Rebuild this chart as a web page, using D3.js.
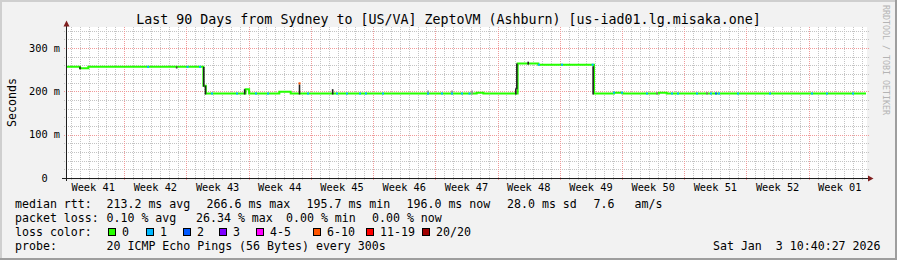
<!DOCTYPE html>
<html>
<head>
<meta charset="utf-8">
<script src="https://cdn.jsdelivr.net/npm/d3@7/dist/d3.min.js"></script>
<style>
	body { margin: 0; background: #f2f2f2; }
	svg { display: block; }
	text { font-family: "DejaVu Sans Mono", monospace; white-space: pre; fill: #000; }
</style>
</head>
<body>
<div id="visDiv"></div>
<script>
(function () {

///////////////////////
// DATA
//
var startTime = new Date(Date.UTC(2025, 9, 5, 10, 40, 27)),
	endTime = new Date(Date.UTC(2026, 0, 3, 10, 40, 27));

// median rtt, step changes (days after start, ms)
var medDays = [0, 1.58, 2.51, 15.45, 15.73, 20.2, 20.6, 24.0, 25.28, 46.2, 46.95, 50.81, 53.13, 59.4, 61.65, 62.6, 66.71, 67.58];
var medMs   = [256.5, 253.5, 256.5, 213, 195, 205, 195, 199, 195, 197, 195, 264, 261.5, 195, 197, 195, 197, 195];

// smoke (spread of pings) bars
var smokeDays = [1.58, 12.45, 15.5, 15.69, 20.1, 26.27, 30.0, 40.73, 43.43, 45.68, 50.6, 50.72, 52.0, 59.3, 66.49, 72.11];
var smokeLo   = [253.5, 255, 213, 195, 195, 195, 195, 195, 195, 195, 195, 207, 264, 195, 195, 195];
var smokeHi   = [257, 257.5, 256.5, 213, 205, 216, 205, 202, 202, 202, 207, 264, 268.5, 258, 198, 198];
var smokeCol  = ["#222", "#444", "#222", "#222", "#222", "#222", "#222", "#909090", "#909090", "#909090", "#222", "#222", "#222", "#222", "#777", "#777"];

// samples with packet loss (days after start, loss class index)
var lossDays = [9.23, 13.67, 15.08, 16.43, 19.24, 21.38, 22.73, 26.27, 27.23, 30.49, 31.61, 33.08, 33.75, 35.66, 40.73, 42.3, 43.43, 44.55, 45.39,
	53.21, 55.8, 59.25, 61.65, 62.55, 65.36, 68.18, 68.85, 70.99, 72.56, 73.13, 73.46, 75.6, 79.2, 83.93, 85.61, 88.54];
var lossCls  = [1, 1, 1, 1, 1, 1, 1, 5, 1, 1, 1, 1, 1, 1, 1, 1, 1, 1, 1,
	1, 1, 1, 1, 1, 1, 1, 1, 1, 1, 2, 1, 1, 1, 1, 1, 1];
var lossMs   = [null, null, null, null, null, null, null, 218.5, null, null, null, null, null, null, null, null, null, null, null,
	null, null, null, null, null, null, null, null, null, null, null, null, null, null, null, null, null];

var weekLabels = ["Week 41", "Week 42", "Week 43", "Week 44", "Week 45", "Week 46", "Week 47",
	"Week 48", "Week 49", "Week 50", "Week 51", "Week 52", "Week 01"];
var yTicks = [0, 100, 200, 300],
	yTickLabels = ["0  ", "100 m", "200 m", "300 m"];

var lossNames  = ["0", "1", "2", "3", "4-5", "6-10", "11-19", "20/20"],
	lossColors = ["#26ff00", "#00b8ff", "#0059ff", "#7e00ff", "#ff00ff", "#ff5500", "#ff0000", "#a00000"];

var rttLine  = ["median rtt:", "213.2 ms avg", "266.6 ms max", "195.7 ms min", "196.0 ms now", "28.0 ms sd", "7.6", "am/s"],
	lossLine = ["packet loss:", "0.10 % avg", "26.34 % max", "0.00 % min", "0.00 % now"],
	probeLine = ["probe:", "20 ICMP Echo Pings (56 Bytes) every 300s"];

var titleText = "Last 90 Days from Sydney to [US/VA] ZeptoVM (Ashburn) [us-iad01.lg.misaka.one]",
	stampText = "Sat Jan  3 10:40:27 2026";

///////////////////////
// DEFS
//
var W = 897, H = 260,
	pL = 66, pR = 866, pT = 27, pB = 178,
	rttX = [15, 106.5, 206.5, 306.5, 406.5, 507, 593.5, 634.5],
	lossX = [15, 106.5, 196, 286, 372],
	boxX = [108, 146, 183, 219, 256, 313, 366, 422];

function day(d) { return new Date(+startTime + d * 864e5); }
function px(v) { return Math.round(v) + 0.5; }

var x = d3.scaleUtc().domain([startTime, endTime]).range([pL, pR]);
var y = d3.scaleLinear().domain([0, 348.5]).range([pB, pT]);

var svg = d3.select('#visDiv').append('svg')
	.attr('width', W).attr('height', H);

// background + frame
svg.append('rect').attr('width', W).attr('height', H).attr('fill', '#f2f2f2');
svg.append('rect').attr('x', 0).attr('y', 0).attr('width', W).attr('height', 2).attr('fill', '#cfcfcf');
svg.append('rect').attr('x', 0).attr('y', 0).attr('width', 2).attr('height', H).attr('fill', '#cfcfcf');
svg.append('rect').attr('x', 0).attr('y', H - 2).attr('width', W).attr('height', 2).attr('fill', '#9e9e9e');
svg.append('rect').attr('x', W - 2).attr('y', 0).attr('width', 2).attr('height', H).attr('fill', '#9e9e9e');

svg.append('rect')
	.attr('x', pL).attr('y', pT)
	.attr('width', pR - pL + 1).attr('height', pB - pT)
	.attr('fill', '#fff');

// grid
var grid = svg.append('g');
var sundays = d3.utcSunday.range(startTime, endTime);
var days = d3.utcDay.range(startTime, endTime).filter(function (d) { return d.getUTCDay() !== 0; });

grid.selectAll('.vmin').data(days).enter().append('line')
	.attr('x1', function (d) { return px(x(d)); }).attr('x2', function (d) { return px(x(d)); })
	.attr('y1', pT).attr('y2', pB + 2)
	.attr('stroke', '#c4c4c4').attr('stroke-dasharray', '1,1');

var yMinor = d3.range(20, 348, 20).filter(function (v) { return v % 100 !== 0; });
grid.selectAll('.hmin').data(yMinor).enter().append('line')
	.attr('x1', pL - 2).attr('x2', pR + 3)
	.attr('y1', function (v) { return px(y(v)); }).attr('y2', function (v) { return px(y(v)); })
	.attr('stroke', '#c4c4c4').attr('stroke-dasharray', '1,1');

grid.selectAll('.vmaj').data(sundays).enter().append('line')
	.attr('x1', function (d) { return px(x(d)); }).attr('x2', function (d) { return px(x(d)); })
	.attr('y1', pT).attr('y2', pB + 2)
	.attr('stroke', '#f09a9a').attr('stroke-dasharray', '1,1');

grid.selectAll('.hmaj').data(yTicks.slice(1)).enter().append('line')
	.attr('x1', pL - 2).attr('x2', pR + 3)
	.attr('y1', function (v) { return px(y(v)); }).attr('y2', function (v) { return px(y(v)); })
	.attr('stroke', '#f09a9a').attr('stroke-dasharray', '1,1');

// week labels, centred in each week
var labWeeks = d3.utcSunday.range(d3.utcSunday.floor(startTime), endTime);
svg.selectAll('.wk').data(labWeeks).enter().append('text')
	.attr('x', function (d) { return x(new Date(+d + 3.5 * 864e5)); })
	.attr('y', 191)
	.attr('text-anchor', 'middle')
	.style('font-size', '10.3px')
	.text(function (d, i) { return weekLabels[i]; });

svg.selectAll('.yl').data(yTicks).enter().append('text')
	.attr('x', 60)
	.attr('y', function (v) { return y(v) + 3.7; })
	.attr('text-anchor', 'end')
	.style('font-size', '10.3px')
	.text(function (v, i) { return yTickLabels[i]; });

svg.append('text')
	.attr('transform', 'translate(15.5,102.5) rotate(-90)')
	.attr('text-anchor', 'middle')
	.style('font-size', '11.6px')
	.text('Seconds');

// median line
var med = medDays.map(function (d, i) { return [day(d), medMs[i]]; });
med.push([endTime, medMs[medMs.length - 1]]);

var line = d3.line()
	.x(function (d) { return x(d[0]); })
	.y(function (d) { return y(d[1]); })
	.curve(d3.curveStepAfter);

svg.append('path')
	.datum(med)
	.attr('fill', 'none')
	.attr('stroke', lossColors[0])
	.attr('stroke-width', 2)
	.attr('d', line);

// smoke
svg.selectAll('.smoke').data(smokeDays).enter().append('line')
	.attr('x1', function (d) { return x(day(d)); }).attr('x2', function (d) { return x(day(d)); })
	.attr('y1', function (d, i) { return y(smokeLo[i]) + 1; })
	.attr('y2', function (d, i) { return y(smokeHi[i]); })
	.attr('stroke', function (d, i) { return smokeCol[i]; })
	.attr('stroke-width', 1.6);

// loss coloured samples on the median
var bis = d3.bisector(function (d) { return d; }).right;
function medAt(d) { return medMs[Math.max(0, bis(medDays, d) - 1)]; }

svg.selectAll('.loss').data(lossDays).enter().append('rect')
	.attr('x', function (d) { return x(day(d)) - 1; })
	.attr('y', function (d, i) { return y(lossMs[i] != null ? lossMs[i] : medAt(d)) - 1; })
	.attr('width', 2).attr('height', 2)
	.attr('fill', function (d, i) { return lossColors[lossCls[i]]; });

// axes
svg.append('line')
	.attr('x1', pL - 4).attr('x2', pR + 2)
	.attr('y1', pB + 0.5).attr('y2', pB + 0.5)
	.attr('stroke', '#1f1f1f');
svg.append('line')
	.attr('x1', pL + 0.5).attr('x2', pL + 0.5)
	.attr('y1', pB + 3).attr('y2', pT - 3)
	.attr('stroke', '#1f1f1f');
svg.append('path')
	.attr('d', 'M' + (pL - 2.5) + ',' + (pT - 0.5) + 'L' + (pL + 3.5) + ',' + (pT - 0.5) + 'L' + (pL + 0.5) + ',' + (pT - 6.5) + 'Z')
	.attr('fill', '#801f1f');
svg.append('path')
	.attr('d', 'M' + (pR + 2) + ',' + (pB - 2.5) + 'L' + (pR + 2) + ',' + (pB + 3.5) + 'L' + (pR + 7.5) + ',' + (pB + 0.5) + 'Z')
	.attr('fill', '#801f1f');

// title + watermark
svg.append('text')
	.attr('x', W / 2).attr('y', 24)
	.attr('text-anchor', 'middle')
	.style('font-size', '13.3px')
	.text(titleText);

svg.append('text')
	.attr('transform', 'translate(883,5) rotate(90)')
	.style('font-size', '8.3px')
	.style('fill', '#b4b4b4')
	.text('RRDTOOL / TOBI OETIKER');

// legend
var leg = svg.append('g').style('font-size', '11.6px');

leg.selectAll('.l1').data(rttLine).enter().append('text')
	.attr('x', function (d, i) { return rttX[i]; }).attr('y', 208)
	.text(function (d) { return d; });

leg.selectAll('.l2').data(lossLine).enter().append('text')
	.attr('x', function (d, i) { return lossX[i]; }).attr('y', 222)
	.text(function (d) { return d; });

leg.append('text').attr('x', 15).attr('y', 236).text('loss color:');
leg.selectAll('.box').data(lossNames).enter().append('rect')
	.attr('x', function (d, i) { return boxX[i] + 0.5; }).attr('y', 228.5)
	.attr('width', 7).attr('height', 7)
	.attr('fill', function (d, i) { return lossColors[i]; })
	.attr('stroke', '#000');
leg.selectAll('.bl').data(lossNames).enter().append('text')
	.attr('x', function (d, i) { return boxX[i] + 14; }).attr('y', 236)
	.text(function (d) { return d; });

leg.selectAll('.l4').data(probeLine).enter().append('text')
	.attr('x', function (d, i) { return i ? 106.5 : 15; }).attr('y', 250)
	.text(function (d) { return d; });

leg.append('text')
	.attr('x', 880.5).attr('y', 250)
	.attr('text-anchor', 'end')
	.text(stampText);

}());
</script>
</body>
</html>
